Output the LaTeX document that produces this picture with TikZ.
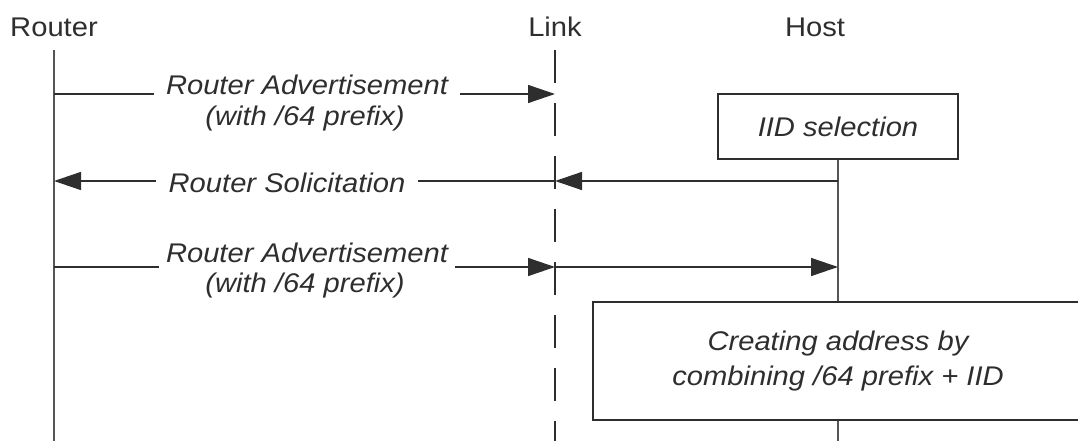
\documentclass[tikz,border=0pt]{standalone}
\usepackage{fontspec}
\setmainfont[FakeStretch=1.08]{Liberation Sans}
\usetikzlibrary{arrows.meta}
\definecolor{ink}{HTML}{2E2E2E}
\definecolor{lifecol}{HTML}{555555}
\tikzset{
  party/.style={font=\fontsize{27}{30}\selectfont, text=ink, inner sep=0pt},
  msg/.style={font=\fontsize{27}{30}\selectfont\itshape, text=ink, inner ysep=0pt, anchor=base},
  lifeline/.style={draw=lifecol, line width=2pt},
  linkline/.style={draw=ink, line width=1.6pt, dash pattern=on 33pt off 20pt},
  signal/.style={draw=ink, line width=1.5pt},
  tip/.style={-{Triangle[length=27pt,width=18pt]}},
  actbox/.style={draw=ink, line width=1.8pt, fill=white, align=center, text=ink,
                 font=\fontsize{27}{35}\selectfont\itshape, inner sep=0pt}
}
\begin{document}
\begin{tikzpicture}[x=1pt,y=-1pt]
\useasboundingbox (0,0) rectangle (1078,441);
\clip (0,0) rectangle (1078,441);

% participants
\node[party] (router) at (54,27) {Router};
\node[party] (link)   at (555,27) {Link};
\node[party] (host)   at (815,27) {Host};

% lifeline ends
\coordinate (rtop) at (54,50);
\coordinate (rbot) at (54,441);
\coordinate (ltop) at (555,50);
\coordinate (lbot) at (555,441);
\coordinate (hbot) at (838,441);

% activity boxes on the host
\node[actbox, minimum width=240pt, minimum height=65pt] (iid) at (838,126.5) {IID selection};
\node[actbox, minimum width=490pt, minimum height=118pt] (create) at (838,361)
  {Creating address by\\combining /64 prefix + IID};

\draw[lifeline] (rtop) -- (rbot);
\draw[linkline] (ltop) -- (lbot);
\draw[lifeline] (iid.south) -- (create.north);
\draw[lifeline] (create.south) -- (hbot);

% message rows
\coordinate (r1) at (54,94);
\coordinate (l1) at (555,94);
\coordinate (r2) at (54,181);
\coordinate (l2) at (555,181);
\coordinate (h2) at (838,181);
\coordinate (r3) at (54,267);
\coordinate (l3) at (555,267);
\coordinate (h3) at (838,267);

% first router advertisement
\node[msg, inner xsep=12pt] (ra1) at (307,95) {Router Advertisement};
\node[msg] (ra1b) at (305,125) {(with /64 prefix)};
\draw[signal] (r1) -- (r1 -| ra1.west);
\draw[signal, tip] (ra1.east |- l1) -- (l1);

% router solicitation
\node[msg, inner xsep=12pt] (rs) at (287,192) {Router Solicitation};
\draw[signal, tip] (h2) -- (l2);
\draw[signal] (l2) -- (rs.east |- l2);
\draw[signal, tip] (rs.west |- r2) -- (r2);

% second router advertisement
\node[msg, inner xsep=7pt] (ra2) at (307,262) {Router Advertisement};
\node[msg] (ra2b) at (305,292) {(with /64 prefix)};
\draw[signal] (r3) -- (r3 -| ra2.west);
\draw[signal, tip] (ra2.east |- l3) -- (l3);
\draw[signal, tip] (l3) -- (h3);
\end{tikzpicture}
\end{document}
